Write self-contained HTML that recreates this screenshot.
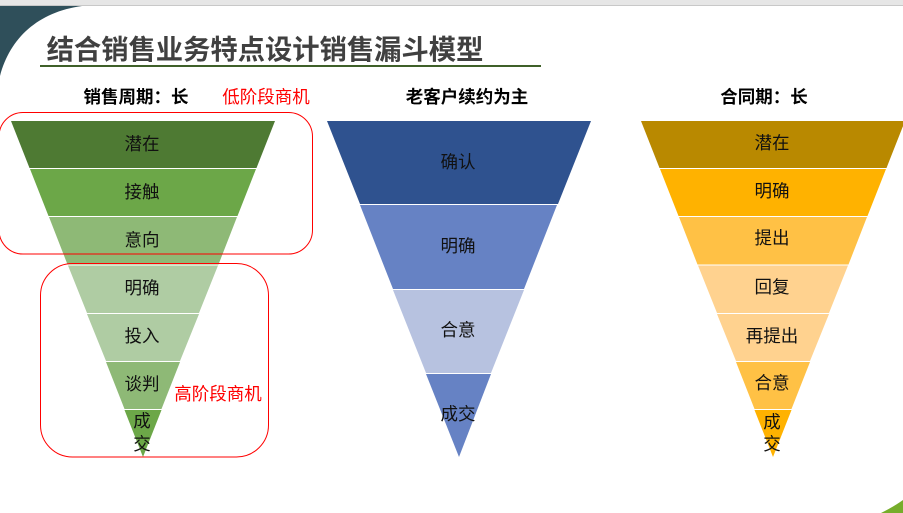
<!DOCTYPE html>
<html><head><meta charset="utf-8"><style>
html,body{margin:0;padding:0;width:903px;height:513px;overflow:hidden;background:#fff}
svg{display:block}
text{font-family:"Liberation Sans","Noto Sans CJK SC",sans-serif;text-anchor:middle;fill:#111}
.l{font-size:17.5px}
.h{font-size:17.5px;font-weight:bold;fill:#000}
.r{font-size:17.5px;fill:#f00}
</style></head><body>
<svg width="903" height="513" viewBox="0 0 903 513" xmlns="http://www.w3.org/2000/svg">
<rect x="0" y="0" width="903" height="5" fill="#e6e6e6"/>
<rect x="0" y="5" width="903" height="1" fill="#c8c8c8"/>
<path d="M0 6H82C38 12 10 38 0 76Z" fill="#2f4f5a"/>
<path d="M903 500V513H881C889 509 896 505 903 500Z" fill="#76ad2b"/>
<text x="265" y="59" text-anchor="middle" style="font-size:27.3px;font-weight:bold;fill:#404040">结合销售业务特点设计销售漏斗模型</text>
<rect x="40" y="65" width="501" height="2" fill="#3f6029"/>

<text class="h" x="136" y="103">销售周期：长</text>
<text class="r" x="266" y="103">低阶段商机</text>
<text class="h" x="467" y="103">老客户续约为主</text>
<text class="h" x="764" y="103">合同期：长</text>

<!-- funnel 1 -->
<polygon points="11,121 275,121 256.5,168 29.5,168" fill="#4e7a33"/>
<polygon points="30,169 256,169 237.5,216 48.5,216" fill="#6ca748"/>
<polygon points="49,217 237,217 218.5,264.5 67.5,264.5" fill="#8eb976"/>
<polygon points="68,265.5 218,265.5 199,313 87,313" fill="#afcca3"/>
<polygon points="87,314 199,314 180,361 106,361" fill="#afcca3"/>
<polygon points="106,362 180,362 161.5,409 124.5,409" fill="#8eb976"/>
<polygon points="124.5,410 161.5,410 143,457" fill="#6ca748"/>
<text class="l" x="142" y="150">潜在</text>
<text class="l" x="142" y="198">接触</text>
<text class="l" x="142" y="246">意向</text>
<text class="l" x="142" y="294">明确</text>
<text class="l" x="142" y="342">投入</text>
<text class="l" x="142" y="390">谈判</text>
<text class="l" x="142" y="427">成</text>
<text class="l" x="142" y="450">交</text>

<!-- funnel 2 -->
<polygon points="327,121 591,121 558,204 360,204" fill="#2f528f"/>
<polygon points="360,205 557,205 524,289 393,289" fill="#6682c4"/>
<polygon points="393,290 524,290 491,373 426,373" fill="#b7c2e0"/>
<polygon points="426,374 491,374 459,457" fill="#6682c4"/>
<text class="l" x="458" y="168">确认</text>
<text class="l" x="458" y="252">明确</text>
<text class="l" x="458" y="336">合意</text>
<text class="l" x="458" y="420">成交</text>

<!-- funnel 3 -->
<polygon points="641,121 905,121 886.5,168 659.5,168" fill="#b98900"/>
<polygon points="660,169 886,169 867.5,216 678.5,216" fill="#ffb200"/>
<polygon points="679,217 867,217 848.5,264.5 697.5,264.5" fill="#ffc145"/>
<polygon points="698,265.5 848,265.5 829,313 717,313" fill="#ffd28f"/>
<polygon points="717,314 829,314 810,361 736,361" fill="#ffd28f"/>
<polygon points="736,362 810,362 791.5,409 754.5,409" fill="#ffc145"/>
<polygon points="754.5,410 791.5,410 773,457" fill="#ffb200"/>
<text class="l" x="772" y="149">潜在</text>
<text class="l" x="772" y="197">明确</text>
<text class="l" x="772" y="244">提出</text>
<text class="l" x="772" y="293">回复</text>
<text class="l" x="772" y="342">再提出</text>
<text class="l" x="772" y="389">合意</text>
<text class="l" x="772" y="428">成</text>
<text class="l" x="772" y="450">交</text>

<rect x="-1" y="112.5" width="313.5" height="141.5" rx="24" ry="24" fill="none" stroke="#f00" stroke-width="1"/>
<rect x="40.5" y="263.5" width="228" height="193.5" rx="32" ry="32" fill="none" stroke="#f00" stroke-width="1"/>
<text class="r" x="218" y="400">高阶段商机</text>
</svg>
</body></html>
